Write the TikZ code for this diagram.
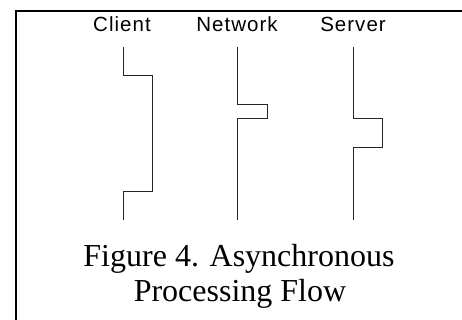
\documentclass[tikz,border=0pt]{standalone}
\usepackage{fontspec}
\setmainfont{Liberation Serif}
\newfontfamily\labelfont[LetterSpace=5]{Liberation Sans}
\begin{document}
\begin{tikzpicture}[x=1pt,y=-1pt,
  lane/.style={inner sep=0pt, anchor=base, font=\labelfont\fontsize{20.5}{24}\selectfont},
  flow/.style={draw=black!85, line width=0.9pt},
  frame/.style={draw=black, line width=2pt},
  captionline/.style={inner sep=0pt, anchor=base, font=\fontsize{32}{36}\selectfont}]
  \useasboundingbox (0,0) rectangle (462,320);
  % surrounding frame (runs past the page on the right and bottom)
  \draw[frame] (16,330) -- (16,11) -- (470,11);

  % column headings
  \node[lane] (client)  at (122,32) {Client};
  \node[lane] (network) at (237,32) {Network};
  \node[lane] (server)  at (353,32) {Server};

  % client timeline: busy while the request is outstanding
  \coordinate (c0) at (123,47);
  \coordinate (c1) at (123,220);
  \draw[flow] (c0) |- (152,75) -- (152,191) -| (c1);

  % network timeline
  \coordinate (n0) at (237,47);
  \coordinate (n1) at (237,220);
  \draw[flow] (n0) |- (267,104) -- (267,118) -| (n1);

  % server timeline
  \coordinate (s0) at (353,47);
  \coordinate (s1) at (353,220);
  \draw[flow] (s0) |- (382,118) -- (382,147) -| (s1);

  % caption
  \node[captionline] (cap1) at (239,266) {Figure 4. Asynchronous};
  \node[captionline] (cap2) at (240,301) {Processing Flow};
\end{tikzpicture}
\end{document}
